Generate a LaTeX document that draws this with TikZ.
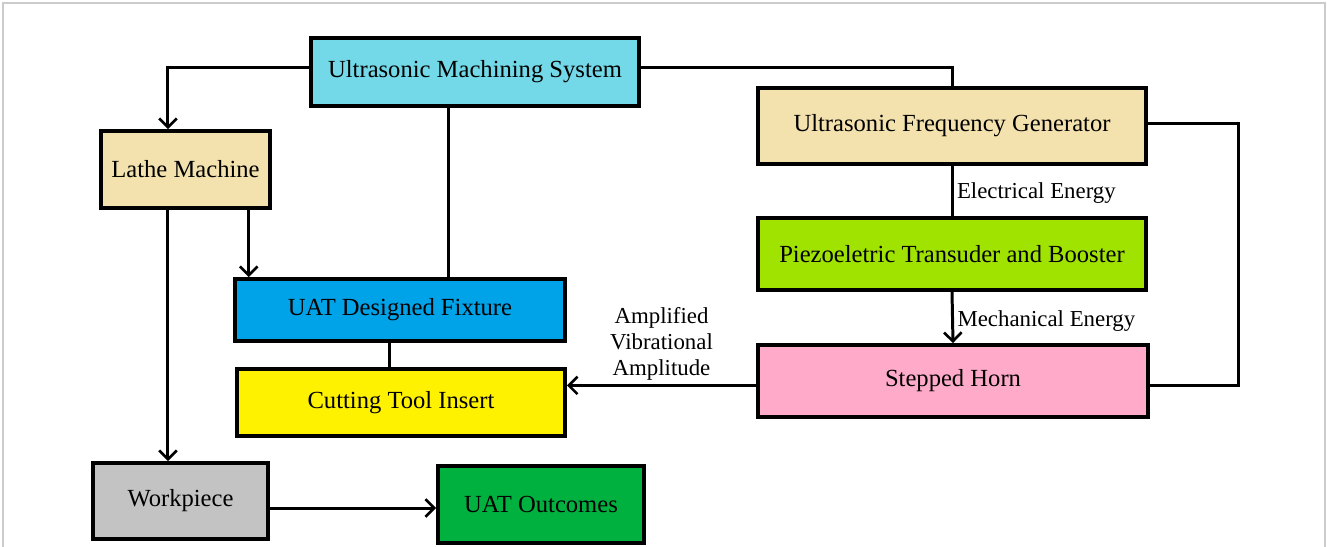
\documentclass[tikz,border=0pt]{standalone}
\usepackage{fontspec}
\setmainfont{Liberation Serif}
\usetikzlibrary{arrows.meta}
\definecolor{umscyan}{HTML}{73D9E8}
\definecolor{wheatbox}{HTML}{F3E2AE}
\definecolor{limebox}{HTML}{A0E300}
\definecolor{bluebox}{HTML}{00A2E8}
\definecolor{yellowbox}{HTML}{FFF200}
\definecolor{pinkbox}{HTML}{FFAAC9}
\definecolor{graybox}{HTML}{C3C3C3}
\definecolor{greenbox}{HTML}{00B140}
\begin{document}
\begin{tikzpicture}[
            x=0.02cm, y=-0.02cm,
            box/.style={draw, line width=2.2pt, inner sep=0pt, font=\fontsize{14}{15}\selectfont},
            lbl/.style={font=\fontsize{13}{14.7}\selectfont, inner sep=2pt},
            line width=1.7pt,
            >={Straight Barb[length=5pt, width=10pt, line width=1.5pt]}
            ]
        \useasboundingbox (0,0) rectangle (1327,547);
        \draw[gray!40, line width=0.8pt] (3,547) -- (3,3) -- (1325,3) -- (1325,547);
        % boxes
        \node[box, fill=umscyan, minimum width=6.56cm, minimum height=1.36cm] (ums) at (475,72) {Ultrasonic Machining System};
        \node[box, fill=wheatbox, minimum width=3.38cm, minimum height=1.54cm] (lathe) at (185.5,169.5) {Lathe Machine};
        \node[box, fill=wheatbox, minimum width=7.76cm, minimum height=1.52cm] (ufg) at (952,126) {Ultrasonic Frequency Generator};
        \node[box, fill=limebox, minimum width=7.76cm, minimum height=1.44cm] (piezo) at (952,254) {Piezoeletric Transuder and Booster};
        \node[box, fill=bluebox, minimum width=6.6cm, minimum height=1.24cm] (fix) at (400,310) {UAT Designed Fixture};
        \node[box, fill=yellowbox, minimum width=6.56cm, minimum height=1.34cm] (tool) at (401,402.5) {Cutting Tool Insert};
        \node[box, fill=pinkbox, minimum width=7.8cm, minimum height=1.44cm] (horn) at (953,381) {Stepped Horn};
        \node[box, fill=graybox, minimum width=3.5cm, minimum height=1.52cm] (work) at (180.5,501) {Workpiece};
        \node[box, fill=greenbox, minimum width=4.12cm, minimum height=1.54cm] (out) at (541,504.5) {UAT Outcomes};
        % connectors
        \draw[->] ([yshift=2.8pt]ums.west) -| ([xshift=-10pt]lathe.north);
        \draw ([yshift=2.8pt]ums.east) -| (ufg.north);
        \draw ([xshift=-15pt]ums.south) -- ([xshift=-15pt]ums.south |- fix.north);
        \draw[->] ([xshift=-10pt]lathe.south) -- ([xshift=-10pt]lathe.south |- work.north);
        \draw[->] ([xshift=36pt]lathe.south) -- ([xshift=36pt]lathe.south |- fix.north);
        \draw ([xshift=-6pt]fix.south) -- ([xshift=-6pt]fix.south |- tool.north);
        \draw (ufg.south) -- node[lbl, right, yshift=-1pt] {Electrical Energy} (piezo.north);
        \draw[->] (piezo.south) -- node[lbl, right, yshift=-2pt] {Mechanical Energy} (horn.north);
        \draw ([yshift=1.7pt]ufg.east) -- ++(91,0) |- ([yshift=-2.5pt]horn.east);
        \draw[->] ([yshift=-2.5pt]horn.west) -- node[lbl, above, align=center] {Amplified\\Vibrational\\Amplitude} ([yshift=-2.5pt]horn.west -| tool.east);
        \draw[->] ([yshift=-4pt]work.east) -- ([yshift=-4pt]work.east -| out.west);
        \end{tikzpicture}
\end{document}
